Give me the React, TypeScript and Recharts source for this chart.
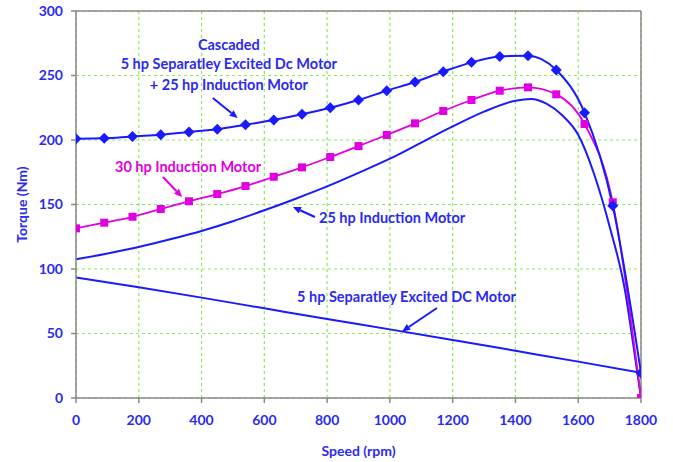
import { LineChart, Line, XAxis, YAxis, CartesianGrid, ReferenceLine, ReferenceDot, Label } from "recharts";

const BLUE = "#1a1aff";
const TEXT_BLUE = "#2b2bf0";
const MAGENTA = "#e000e0";

// speeds where the marked series have a point (rpm)
const speedMarked = [0, 90, 180, 270, 360, 450, 540, 630, 720, 810, 900, 990, 1080, 1170, 1260, 1350, 1440, 1530, 1620, 1710, 1800];
const cascadedTorque = [201, 201.3, 202.8, 204, 206.2, 208.3, 211.9, 215.5, 219.9, 225, 231, 238.2, 245, 253, 260.2, 264.8, 265.4, 254.3, 221.2, 149, 19.4];
const hp30Torque = [131.5, 135.9, 140.5, 146.5, 152.5, 158.1, 164.3, 171.5, 178.8, 186.8, 195.3, 203.9, 212.9, 222.5, 231, 238.2, 240.8, 235.4, 212.4, 151.7, 0];

// 25 hp induction motor (no markers)
const speed25 = [0, 100, 200, 300, 400, 500, 600, 700, 800, 900, 1000, 1100, 1200, 1300, 1400, 1450, 1500, 1550, 1600, 1650, 1700, 1750, 1775, 1800];
const hp25Torque = [107.5, 112, 117, 123, 129.5, 137, 145.5, 154.5, 164, 174.5, 185.5, 198, 210.5, 222, 230.5, 231.8, 228, 219, 204, 174, 133, 82, 42, 0];

// 5 hp separately excited DC motor
const speedDc = [0, 200, 400, 600, 800, 1000, 1200, 1400, 1600, 1800];
const dcTorque = [93.5, 85.8, 77.8, 69.5, 61.2, 53.2, 45, 36.6, 28.2, 19.6];

const xTicks = [0, 200, 400, 600, 800, 1000, 1200, 1400, 1600, 1800];
const yTicks = [0, 50, 100, 150, 200, 250, 300];

const toRows = (xs: number[], ys: number[]) => xs.map((rpm, i) => ({ rpm, t: ys[i] }));

const cascadedData = toRows(speedMarked, cascadedTorque);
const hp30Data = toRows(speedMarked, hp30Torque);
const hp25Data = toRows(speed25, hp25Torque);
const dcData = toRows(speedDc, dcTorque);

const Diamond = (props: any) => {
  const { cx, cy } = props;
  if (cx == null || cy == null) return null;
  const s = 5.5;
  return <polygon points={`${cx},${cy - s} ${cx + s},${cy} ${cx},${cy + s} ${cx - s},${cy}`} fill={BLUE} />;
};

const Square = (props: any) => {
  const { cx, cy } = props;
  if (cx == null || cy == null) return null;
  return <rect x={cx - 4} y={cy - 4} width={8} height={8} fill={MAGENTA} />;
};

const arrowShape = (color: string) => (props: any) => {
  const { x1, y1, x2, y2 } = props;
  const ang = Math.atan2(y2 - y1, x2 - x1);
  const len = 8;
  const w = 3.5;
  const bx = x2 - len * Math.cos(ang);
  const by = y2 - len * Math.sin(ang);
  const px = -Math.sin(ang) * w;
  const py = Math.cos(ang) * w;
  return (
    <g>
      <line x1={x1} y1={y1} x2={bx} y2={by} stroke={color} strokeWidth={2} />
      <polygon points={`${x2},${y2} ${bx + px},${by + py} ${bx - px},${by - py}`} fill={color} />
    </g>
  );
};

const textShape = (text: string, color: string) => (props: any) => (
  <text
    x={props.cx}
    y={props.cy}
    textAnchor="middle"
    dominantBaseline="central"
    fill={color}
    fontSize={14.5}
    fontWeight={700}
    fontFamily="Lato, sans-serif"
  >
    {text}
  </text>
);

const notes = [
  { text: "Cascaded", rpm: 487, t: 274.4, color: TEXT_BLUE },
  { text: "5 hp Separatley Excited Dc Motor", rpm: 487, t: 259, color: TEXT_BLUE },
  { text: "+ 25 hp Induction Motor", rpm: 487, t: 243.4, color: TEXT_BLUE },
  { text: "30 hp Induction Motor", rpm: 357, t: 179.8, color: MAGENTA },
  { text: "25 hp Induction Motor", rpm: 1007, t: 140.3, color: TEXT_BLUE },
  { text: "5 hp Separatley Excited DC Motor", rpm: 1053, t: 79, color: TEXT_BLUE },
];

const arrows = [
  { from: [436, 232.6], to: [515, 217], color: BLUE },
  { from: [277, 171.3], to: [338, 155.8], color: MAGENTA },
  { from: [761, 140.3], to: [691, 148.1], color: BLUE },
  { from: [1150, 69.8], to: [1039, 51.6], color: BLUE },
];

const tickStyle = { fill: TEXT_BLUE, fontSize: 14, fontWeight: 700, fontFamily: "Lato, sans-serif" };

export default function App() {
  return (
    <div style={{ position: "absolute", left: 0, top: 0, width: 673, height: 462, background: "#fff", fontFamily: "Lato, sans-serif" }}>
      <LineChart width={673} height={462} margin={{ top: 11, right: 32, bottom: 4, left: 6 }}>
        <CartesianGrid stroke="#8fe85a" strokeDasharray="3 3" strokeWidth={1.2} />
        <XAxis
          type="number"
          dataKey="rpm"
          domain={[0, 1800]}
          ticks={xTicks}
          height={60}
          tick={tickStyle}
          tickSize={5}
          tickMargin={12}
          stroke="#888"
          strokeWidth={1.5}
          allowDataOverflow
        >
          <Label
            content={(p: any) => (
              <text
                x={p.viewBox.x + p.viewBox.width / 2}
                y={p.viewBox.y + 52}
                textAnchor="middle"
                dominantBaseline="central"
                fill={TEXT_BLUE}
                fontSize={14}
                fontWeight={700}
                fontFamily="Lato, sans-serif"
              >
                Speed (rpm)
              </text>
            )}
          />
        </XAxis>
        <YAxis
          type="number"
          domain={[0, 300]}
          ticks={yTicks}
          width={70}
          tick={tickStyle}
          tickSize={5}
          tickMargin={8}
          stroke="#888"
          strokeWidth={1.5}
          allowDataOverflow
        >
          <Label
            content={(p: any) => {
              const cx = p.viewBox.x + 15;
              const cy = p.viewBox.y + p.viewBox.height / 2;
              return (
                <text
                  x={cx}
                  y={cy}
                  transform={`rotate(-90 ${cx} ${cy})`}
                  textAnchor="middle"
                  dominantBaseline="central"
                  fill={TEXT_BLUE}
                  fontSize={14}
                  fontWeight={700}
                  fontFamily="Lato, sans-serif"
                >
                  Torque (Nm)
                </text>
              );
            }}
          />
        </YAxis>
        <ReferenceLine y={300} stroke="#888" strokeWidth={1.5} />
        <ReferenceLine x={1800} stroke="#888" strokeWidth={1.5} />

        <Line data={dcData} dataKey="t" type="monotone" stroke={BLUE} strokeWidth={2} dot={false} isAnimationActive={false} />
        <Line data={hp25Data} dataKey="t" type="monotone" stroke={BLUE} strokeWidth={2} dot={false} isAnimationActive={false} />
        <Line data={hp30Data} dataKey="t" type="monotone" stroke={MAGENTA} strokeWidth={1.8} dot={<Square />} isAnimationActive={false} />
        <Line data={cascadedData} dataKey="t" type="monotone" stroke={BLUE} strokeWidth={2} dot={<Diamond />} isAnimationActive={false} />

        {arrows.map((a, i) => (
          <ReferenceLine
            key={`arr-${i}`}
            segment={[{ x: a.from[0], y: a.from[1] }, { x: a.to[0], y: a.to[1] }]}
            shape={arrowShape(a.color)}
          />
        ))}
        {notes.map((n, i) => (
          <ReferenceDot key={`note-${i}`} x={n.rpm} y={n.t} r={0} shape={textShape(n.text, n.color)} />
        ))}
      </LineChart>
    </div>
  );
}
